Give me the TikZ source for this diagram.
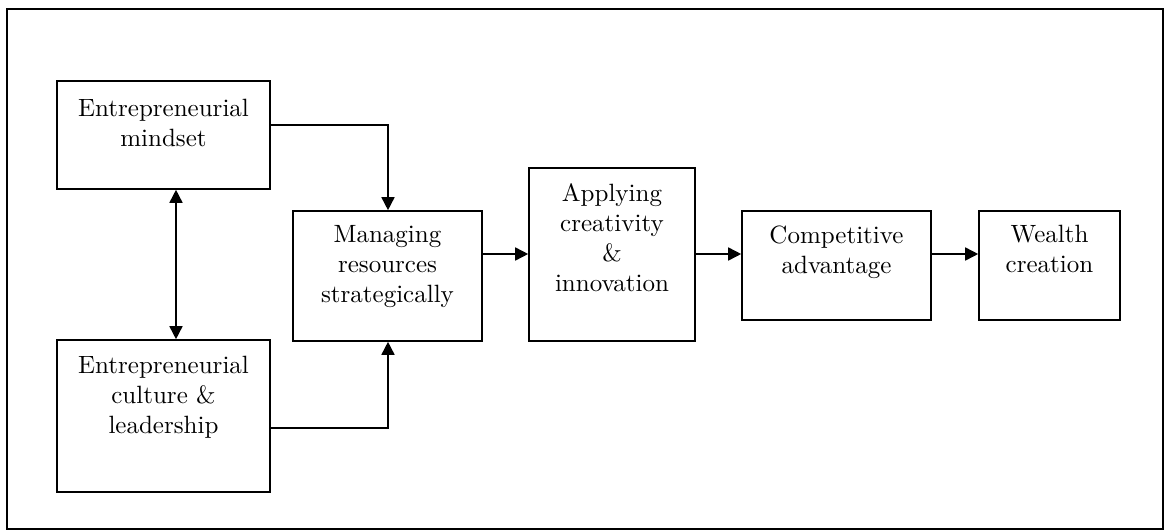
\documentclass[tikz,border=0pt]{standalone}
\usepackage{fontspec}
\setmainfont{lmroman10-regular.otf}
\usetikzlibrary{arrows.meta}
\begin{document}
\begin{tikzpicture}[x=1pt,y=-1pt,
  box/.style={draw, line width=1.6pt, inner sep=0pt},
  lbl/.style={align=center, font=\fontsize{25}{30}\selectfont, inner sep=0pt},
  tip/.tip={Triangle[length=13pt,width=13pt]},
  link/.style={line width=1.6pt, -tip},
  both/.style={line width=1.6pt, tip-tip},
]
\useasboundingbox (0,0) rectangle (1167,532);
% outer frame
\draw[line width=1.5pt] (7,9) rectangle (1163,529);

% boxes
\node[box, minimum width=213pt, minimum height=108pt] (mind) at (163.5,135) {};
\node[box, minimum width=213pt, minimum height=152pt] (cult) at (163.5,416) {};
\node[box, minimum width=189pt, minimum height=130pt] (res)  at (387.5,276) {};
\node[box, minimum width=166pt, minimum height=173pt] (crea) at (612,254.5) {};
\node[box, minimum width=189pt, minimum height=109pt] (comp) at (836.5,265.5) {};
\node[box, minimum width=141pt, minimum height=109pt] (wlth) at (1049.5,265.5) {};

% labels
\node[lbl] (mindT) at (163.5,123) {Entrepreneurial\\mindset};
\node[lbl] (cultT) at (163.5,397) {Entrepreneurial\\culture \&\\leadership};
\node[lbl] (resT)  at (387.5,267) {Managing\\resources\\strategically};
\node[lbl] (creaT) at (612,238) {Applying\\creativity\\\&\\innovation};
\node[lbl] (compT) at (836.5,252) {Competitive\\advantage};
\node[lbl] (wlthT) at (1049.5,249) {Wealth\\creation};

% routing points
\coordinate (vx) at (176,0);
\coordinate (k1) at (388,125);
\coordinate (k2) at (388,428);
\coordinate (row) at (0,254);

% connectors
\draw[both] (mind.south -| vx) -- (cult.north -| vx);
\draw[link] (k1 -| mind.east) -- (k1) -- (res.north -| k1);
\draw[link] (k2 -| cult.east) -- (k2) -- (res.south -| k2);
\draw[link] (res.east |- row) -- (crea.west |- row);
\draw[link] (crea.east |- row) -- (comp.west |- row);
\draw[link] (comp.east |- row) -- (wlth.west |- row);
\end{tikzpicture}
\end{document}
